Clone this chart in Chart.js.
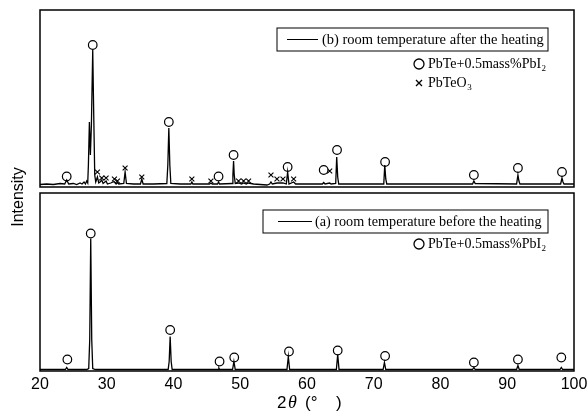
<!DOCTYPE html>
<html>
<head>
<meta charset="utf-8">
<script src="https://cdn.jsdelivr.net/npm/chart.js@4"></script>
<style>
  html, body { margin: 0; padding: 0; background: #fff; }
  #wrap { position: relative; width: 588px; height: 417px; }
</style>
</head>
<body>
<div id="wrap"><canvas id="xrd" width="588" height="417"></canvas></div>
<script>
// 2theta (deg) / intensity (arb., baseline = 0)
const scanB = [
  [20,0.5],[21,1],[22,0.5],[23,1.5],[23.7,1],[24.0,5],[24.3,1],[25,1.5],[25.5,0.5],[26,2],
  [26.3,1],[26.6,3],[26.8,1],[27.0,4],[27.15,2],[27.25,20],[27.4,63],[27.55,30],[27.7,60],
  [27.9,135],[28.05,70],[28.2,10],[28.35,3],[28.6,8],[28.8,2],[29.0,3],[29.25,5],[29.45,1.5],
  [29.9,4],[30.1,1],[30.6,2],[31.1,3.5],[31.4,1],[31.6,2.5],[31.8,1],[32.55,1.5],[32.75,13],
  [32.95,1.5],[34,1],[35.05,1],[35.25,6],[35.45,1],[37,1],[39.0,1.5],[39.15,20],[39.3,57],
  [39.45,20],[39.6,1.5],[41,1],[42.6,1],[42.75,3],[42.9,1],[45.4,1],[45.6,2],[45.8,1],
  [46.6,1],[46.75,3],[46.9,1],[48.8,1.5],[48.9,10],[49.0,24],[49.1,10],[49.25,1.5],[49.75,2],
  [50.2,1],[50.5,2],[50.9,1],[51.2,2],[52,1],[54,0],[54.4,1],[54.6,3],[54.8,1],[55.5,2],
  [56.4,2],[56.9,1],[57.1,13],[57.3,1],[58.0,3],[58.3,1],[60,1],[62.3,1],[62.5,2.5],[62.7,1],
  [63.4,2],[63.6,1],[64.3,1.5],[64.45,28],[64.6,8],[64.75,1],[66,1],[71.5,1],[71.65,20],
  [71.8,6],[71.95,1],[78,1],[84.8,1],[85.0,4],[85.2,1.5],[91.4,1],[91.6,10],[91.75,4],
  [91.9,1],[98.0,1],[98.2,7],[98.35,3],[98.5,1],[100,1]
];
const scanA = [
  [20,0],[23.8,0],[24.0,2],[24.2,0],[27.0,0],[27.3,1],[27.45,30],[27.6,131],[27.75,30],
  [27.9,1],[28.3,0],[39.2,0],[39.35,8],[39.5,33],[39.65,8],[39.8,0],[46.7,0],[46.8,1.5],
  [46.9,0],[48.85,0],[49.05,8],[49.25,0],[57.0,0],[57.2,13],[57.4,0],[64.4,0],[64.6,15],
  [64.8,0],[71.4,0],[71.6,7],[71.8,0],[84.8,0],[85.0,2],[85.2,0],[91.4,0],[91.6,4],
  [91.8,0],[97.9,0],[98.1,2],[98.3,0],[100,0]
];
// peak markers: PbTe+0.5mass%PbI2 (circles) and PbTeO3 (crosses)
const pbteB = [[24.0,8.5],[27.9,140],[39.3,63],[46.75,8.5],[49.0,30],[57.1,18],[62.5,15],
  [64.5,35],[71.7,23],[85.0,10],[91.6,17],[98.2,13]];
const teo3B = [[28.6,13],[29.25,7],[29.9,7],[31.15,6],[31.6,4],[32.75,17],[35.25,8],[42.75,6],
  [45.6,4],[49.75,4],[50.5,4],[51.25,4],[54.6,10],[55.5,6],[56.4,6],[58.0,6],[63.4,14]];
const pbteA = [[24.1,10],[27.6,136],[39.5,39.5],[46.9,8],[49.1,12],[57.3,18],[64.6,19],
  [71.7,13.5],[85.0,7],[91.6,10],[98.1,12]];
const xTicks = [20, 30, 40, 50, 60, 70, 80, 90, 100];

const toPts = (arr) => arr.map(([x, y]) => ({ x: x, y: y }));

const serif = "'Liberation Serif', 'Times New Roman', serif";
const sans = "'Liberation Sans', Arial, sans-serif";

function legendBox(ctx, x0, y0, x1, y1, lx0, lx1, tx, label) {
  ctx.strokeRect(x0, y0, x1 - x0, y1 - y0);
  const ym = (y0 + y1) / 2;
  ctx.beginPath();
  ctx.moveTo(lx0, ym);
  ctx.lineTo(lx1, ym);
  ctx.stroke();
  ctx.fillText(label, tx, ym + 1);
}

function subLabel(ctx, x, y, main, sub) {
  ctx.fillText(main, x, y);
  const w = ctx.measureText(main).width;
  ctx.save();
  ctx.font = "9px " + serif;
  ctx.fillText(sub, x + w + 0.5, y + 5);
  ctx.restore();
}

const decor = {
  id: "decor",
  afterDatasetsDraw(chart) {
    const ctx = chart.ctx;
    const a = chart.chartArea;
    ctx.save();
    ctx.strokeStyle = "#000";
    ctx.fillStyle = "#000";
    ctx.lineWidth = 1.5;
    // the two panels
    ctx.strokeRect(a.left, a.top, a.right - a.left, 177);
    ctx.strokeRect(a.left, 193, a.right - a.left, a.bottom - 193);

    ctx.lineWidth = 1;
    ctx.textBaseline = "middle";
    ctx.font = "14.5px " + serif;
    legendBox(ctx, 277, 28, 548, 51, 287, 318, 322, "(b) room temperature after the heating");
    ctx.font = "14.2px " + serif;
    legendBox(ctx, 263, 210, 548, 233, 278, 312, 315, "(a) room temperature before the heating");

    // symbol keys
    ctx.font = "14px " + serif;
    ctx.lineWidth = 1.3;
    [64, 244].forEach((yy) => {
      ctx.beginPath();
      ctx.arc(419, yy, 5, 0, Math.PI * 2);
      ctx.stroke();
      subLabel(ctx, 428, yy, "PbTe+0.5mass%PbI", "2");
    });
    ctx.beginPath();
    ctx.moveTo(416, 80); ctx.lineTo(422, 86);
    ctx.moveTo(422, 80); ctx.lineTo(416, 86);
    ctx.stroke();
    subLabel(ctx, 428, 83, "PbTeO", "3");

    // axis titles
    ctx.font = "17px " + sans;
    ctx.textBaseline = "middle";
    ctx.fillText("2", 277, 403);
    ctx.font = "italic 18px " + serif;
    ctx.fillText("\u03b8", 288, 403);
    ctx.font = "17px " + sans;
    ctx.fillText("(\u00b0", 305, 403);
    ctx.fillText(")", 336, 403);

    ctx.translate(19, 197);
    ctx.rotate(-Math.PI / 2);
    ctx.textAlign = "center";
    ctx.font = "16px " + sans;
    ctx.fillText("Intensity", 0, 0);
    ctx.restore();
  }
};

const data = {
  datasets: [
    { type: "line", data: toPts(scanB), yAxisID: "yB", borderColor: "#000", borderWidth: 1.3,
      pointRadius: 0, tension: 0 },
    { type: "line", data: toPts(scanA), yAxisID: "yA", borderColor: "#000", borderWidth: 1.3,
      pointRadius: 0, tension: 0 },
    { type: "scatter", data: toPts(pbteB), yAxisID: "yB", pointStyle: "circle", pointRadius: 4.3,
      borderColor: "#000", backgroundColor: "#fff", borderWidth: 1.2 },
    { type: "scatter", data: toPts(teo3B), yAxisID: "yB", pointStyle: "crossRot", pointRadius: 3.5,
      borderColor: "#000", borderWidth: 1.1 },
    { type: "scatter", data: toPts(pbteA), yAxisID: "yA", pointStyle: "circle", pointRadius: 4.3,
      borderColor: "#000", backgroundColor: "#fff", borderWidth: 1.2 }
  ]
};

const config = {
  type: "line",
  data: data,
  options: {
    responsive: false,
    animation: false,
    events: [],
    layout: { padding: { left: 40, right: 14, top: 10, bottom: 0 } },
    plugins: { legend: { display: false }, tooltip: { enabled: false } },
    scales: {
      x: {
        type: "linear",
        min: 20,
        max: 100,
        afterBuildTicks: (s) => { s.ticks = xTicks.map((v) => ({ value: v })); },
        afterFit: (s) => { s.height = 46; s.paddingLeft = 0; s.paddingRight = 0; },
        grid: { display: false, drawTicks: false },
        border: { display: false },
        ticks: { color: "#000", font: { family: sans, size: 16 }, padding: 4, maxRotation: 0 }
      },
      // top panel (b): baseline at 185px
      yB: { display: false, min: -186, max: 175 },
      // bottom panel (a): baseline at ~369px
      yA: { display: false, min: -1.5, max: 359.5 }
    }
  },
  plugins: [decor]
};

new Chart(document.getElementById("xrd"), config);
</script>
</body>
</html>
